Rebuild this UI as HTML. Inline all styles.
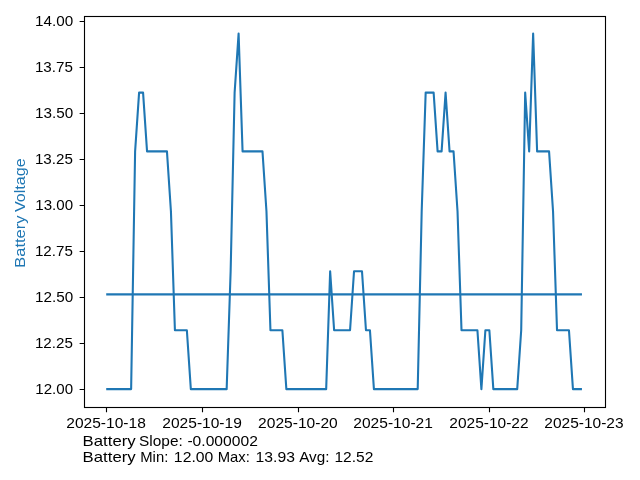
<!DOCTYPE html><html><head><meta charset="utf-8"><title>Battery Voltage</title><style>html,body{margin:0;padding:0;background:#fff;overflow:hidden}svg{display:block;will-change:transform}text{font-family:"Liberation Sans",sans-serif;font-size:14.4px;fill:#000}</style></head><body>
<svg width="640" height="480" viewBox="0 0 640 480">
<rect width="640" height="480" fill="#fff"/>
<polyline points="107.25,389.10 111.23,389.10 115.21,389.10 119.19,389.10 123.17,389.10 127.15,389.10 131.13,389.10 135.11,151.35 139.09,92.60 143.07,92.60 147.05,151.35 151.03,151.35 155.01,151.35 158.99,151.35 162.97,151.35 166.95,151.35 170.93,211.30 174.92,330.20 178.90,330.20 182.88,330.20 186.86,330.20 190.84,389.10 194.82,389.10 198.80,389.10 202.78,389.10 206.76,389.10 210.74,389.10 214.72,389.10 218.70,389.10 222.68,389.10 226.66,389.10 230.64,271.25 234.62,92.60 238.60,33.60 242.58,151.35 246.56,151.35 250.54,151.35 254.52,151.35 258.50,151.35 262.48,151.35 266.46,211.30 270.44,330.20 274.42,330.20 278.40,330.20 282.38,330.20 286.36,389.10 290.34,389.10 294.32,389.10 298.30,389.10 302.28,389.10 306.26,389.10 310.25,389.10 314.23,389.10 318.21,389.10 322.19,389.10 326.17,389.10 330.15,271.25 334.13,330.20 338.11,330.20 342.09,330.20 346.07,330.20 350.05,330.20 354.03,271.25 358.01,271.25 361.99,271.25 365.97,330.20 369.95,330.20 373.93,389.10 377.91,389.10 381.89,389.10 385.87,389.10 389.85,389.10 393.83,389.10 397.81,389.10 401.79,389.10 405.77,389.10 409.75,389.10 413.73,389.10 417.71,389.10 421.69,211.30 425.67,92.60 429.65,92.60 433.63,92.60 437.61,151.35 441.60,151.35 445.58,92.60 449.56,151.35 453.54,151.35 457.52,211.30 461.50,330.20 465.48,330.20 469.46,330.20 473.44,330.20 477.42,330.20 481.40,389.10 485.38,330.20 489.36,330.20 493.34,389.10 497.32,389.10 501.30,389.10 505.28,389.10 509.26,389.10 513.24,389.10 517.22,389.10 521.20,330.20 525.18,92.60 529.16,151.35 533.14,33.60 537.12,151.35 541.10,151.35 545.08,151.35 549.06,151.35 553.04,211.30 557.02,330.20 561.00,330.20 564.98,330.20 568.96,330.20 572.95,389.10 576.93,389.10 580.91,389.10" fill="none" stroke="#1f77b4" stroke-width="2.08" stroke-linejoin="round" stroke-linecap="square"/>
<line x1="107.25" y1="294.4" x2="580.91" y2="294.4" stroke="#1f77b4" stroke-width="2.08" stroke-linecap="square"/>
<rect x="84.5" y="16.5" width="521.00" height="391.00" fill="none" stroke="#000" stroke-width="1.11" stroke-linejoin="miter"/>
<path d="M79.64 21.5H84.5M79.64 67.5H84.5M79.64 113.5H84.5M79.64 159.5H84.5M79.64 205.5H84.5M79.64 251.5H84.5M79.64 297.5H84.5M79.64 343.5H84.5M79.64 389.5H84.5M106.5 407.5V412.36M202.5 407.5V412.36M298.5 407.5V412.36M393.5 407.5V412.36M489.5 407.5V412.36M584.5 407.5V412.36" stroke="#000" stroke-width="1.11" fill="none"/>
<text x="35.29" y="394.00" textLength="37.76" lengthAdjust="spacingAndGlyphs">12.00</text>
<text x="34.93" y="348.00" textLength="37.94" lengthAdjust="spacingAndGlyphs">12.25</text>
<text x="35.09" y="302.00" textLength="38.16" lengthAdjust="spacingAndGlyphs">12.50</text>
<text x="34.93" y="256.00" textLength="37.94" lengthAdjust="spacingAndGlyphs">12.75</text>
<text x="35.29" y="210.00" textLength="37.76" lengthAdjust="spacingAndGlyphs">13.00</text>
<text x="34.93" y="164.00" textLength="37.94" lengthAdjust="spacingAndGlyphs">13.25</text>
<text x="35.09" y="118.00" textLength="38.16" lengthAdjust="spacingAndGlyphs">13.50</text>
<text x="34.93" y="72.00" textLength="37.94" lengthAdjust="spacingAndGlyphs">13.75</text>
<text x="35.09" y="26.00" textLength="38.16" lengthAdjust="spacingAndGlyphs">14.00</text>
<text x="66.32" y="428.00" textLength="79.47" lengthAdjust="spacingAndGlyphs">2025-10-18</text>
<text x="162.32" y="428.00" textLength="79.54" lengthAdjust="spacingAndGlyphs">2025-10-19</text>
<text x="258.14" y="428.00" textLength="79.65" lengthAdjust="spacingAndGlyphs">2025-10-20</text>
<text x="353.34" y="428.00" textLength="79.55" lengthAdjust="spacingAndGlyphs">2025-10-21</text>
<text x="449.36" y="428.00" textLength="79.26" lengthAdjust="spacingAndGlyphs">2025-10-22</text>
<text x="544.34" y="428.00" textLength="79.25" lengthAdjust="spacingAndGlyphs">2025-10-23</text>
<text x="82.61" y="446.00" textLength="53.09" lengthAdjust="spacingAndGlyphs">Battery</text>
<text x="139.08" y="446.00" textLength="43.66" lengthAdjust="spacingAndGlyphs">Slope:</text>
<text x="187.41" y="446.00" textLength="70.43" lengthAdjust="spacingAndGlyphs">-0.000002</text>
<text x="82.61" y="462.00" textLength="53.09" lengthAdjust="spacingAndGlyphs">Battery</text>
<text x="140.24" y="462.00" textLength="28.04" lengthAdjust="spacingAndGlyphs">Min:</text>
<text x="173.88" y="462.00" textLength="39.44" lengthAdjust="spacingAndGlyphs">12.00</text>
<text x="217.73" y="462.00" textLength="32.08" lengthAdjust="spacingAndGlyphs">Max:</text>
<text x="255.57" y="462.00" textLength="39.33" lengthAdjust="spacingAndGlyphs">13.93</text>
<text x="299.19" y="462.00" textLength="30.25" lengthAdjust="spacingAndGlyphs">Avg:</text>
<text x="334.43" y="462.00" textLength="38.89" lengthAdjust="spacingAndGlyphs">12.52</text>
<text transform="translate(25.10,212.11) rotate(-90)" textLength="53.73" lengthAdjust="spacingAndGlyphs" style="fill:#1f77b4">Voltage</text>
<text transform="translate(25.10,267.66) rotate(-90)" textLength="52.04" lengthAdjust="spacingAndGlyphs" style="fill:#1f77b4">Battery</text>
</svg></body></html>
